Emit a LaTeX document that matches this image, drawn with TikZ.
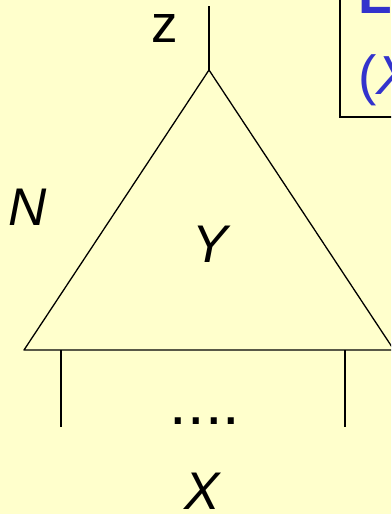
\documentclass[tikz,border=0pt]{standalone}
\usepackage{fontspec}
\setmainfont{Liberation Sans}
\usetikzlibrary{positioning}
\definecolor{paper}{RGB}{255,255,204}
\definecolor{inkblue}{RGB}{51,51,204}
\tikzset{
	lbl/.style={inner sep=0pt, anchor=base, font=\fontsize{53}{60}\selectfont},
	wire/.style={line width=1.6pt},
}

\begin{document}
\begin{tikzpicture}[x=1pt, y=-1pt]
	\useasboundingbox (0,0) rectangle (391,514);
	\fill[paper] (0,0) rectangle (391,514);
	\clip (0,0) rectangle (391,514);

% triangle with its top wire
\coordinate (apex) at (209,70);
\coordinate (bl) at (24,350);
\coordinate (br) at (394,350);
\coordinate (ztop) at (209,6);
	\draw[line width=1.3pt, line join=round] (apex) -- (bl) -- (br) -- cycle;
	\draw[wire] (apex) -- (ztop);

% legs under the base
\coordinate (l1) at (61,350);
\coordinate (l1e) at (61,427);
\coordinate (l2) at (345,350);
\coordinate (l2e) at (345,427);
	\draw[wire] (l1) -- (l1e);
	\draw[wire] (l2) -- (l2e);

% labels
\node[lbl] (zlbl) at (165,42) {z};
\node[lbl] (nlbl) at (28,225) {\itshape N};
\node[lbl] (ylbl) at (210,262) {\itshape Y};
\node[lbl, font=\fontsize{63}{70}\selectfont] (dots) at (205,424) {....};
\node[lbl] (xlbl) at (202,509) {\itshape X};

% corner box
	\draw[line width=1.5pt] (340,-5) rectangle (410,117);
\node[lbl, anchor=base west, text=inkblue, font=\fontsize{55}{60}\selectfont\bfseries] (blue1) at (358,13) {L};
\node[lbl, anchor=base west, text=inkblue, font=\fontsize{55}{60}\selectfont] (blue2) at (358,94) {(\itshape X};
\end{tikzpicture}
\end{document}
